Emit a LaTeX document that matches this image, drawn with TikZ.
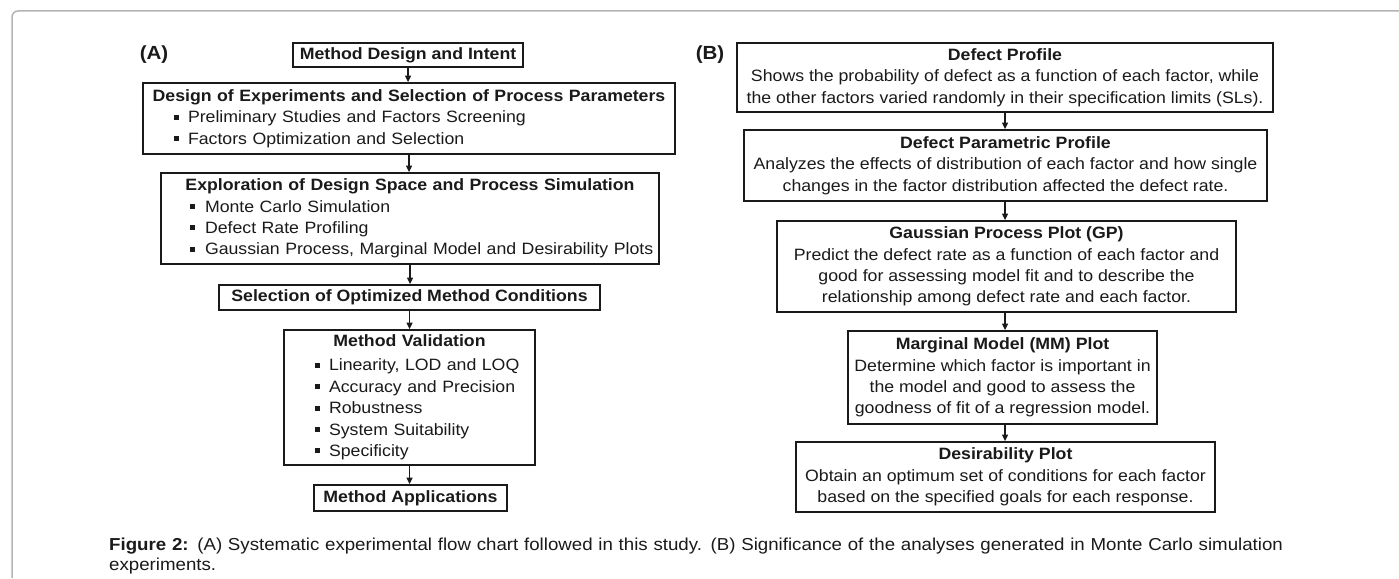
\documentclass[tikz,border=0pt]{standalone}
\usepackage{fontspec}
\setmainfont{Liberation Sans}[FakeStretch=1.08]
\usetikzlibrary{arrows.meta}
\definecolor{ink}{HTML}{1A1A1A}
\definecolor{framegray}{HTML}{B4B4B4}
\newcommand\sqb{\raisebox{3.2pt}{\rule{5pt}{5pt}}}
\begin{document}
\begin{tikzpicture}[x=1pt,y=-1pt,
  box/.style={draw=ink, line width=1.8pt, inner sep=0pt, text=ink,
    font=\fontsize{16.4}{21.4}\selectfont},
  cbox/.style={box, align=center},
  lbox/.style={box, align=left},
  arr/.style={draw=ink, line width=1.3pt, -{Triangle[length=6.5pt,width=6pt]}},
  plabel/.style={text=ink, inner sep=0pt, font=\bfseries\fontsize{19}{21}\selectfont}]
\useasboundingbox (0,0) rectangle (1399,578);
\fill[white] (0,0) rectangle (1399,578);
\draw[framegray, line width=1.5pt, rounded corners=6pt] (12,578) -- (12,11) -- (1399,11);

% panel labels
\node[plabel] (la) at (154,55) {(A)};
\node[plabel] (lb) at (710,55) {(B)};

% panel A
\node[cbox, minimum width=230pt, minimum height=24pt] (mdi) at (408,55)
  {\bfseries Method Design and Intent};
\node[lbox, text width=532pt, minimum height=71pt] (doe) at (409,118.5)
  {\makebox[532pt]{\bfseries Design of Experiments and Selection of Process Parameters}\\
   \hspace*{31pt}\sqb\hspace{9pt}Preliminary Studies and Factors Screening\\
   \hspace*{31pt}\sqb\hspace{9pt}Factors Optimization and Selection};
\node[lbox, text width=498pt, minimum height=91pt] (expl) at (410,218.5)
  {\makebox[498pt]{\bfseries Exploration of Design Space and Process Simulation}\\
   \hspace*{29pt}\sqb\hspace{10pt}Monte Carlo Simulation\\
   \hspace*{29pt}\sqb\hspace{10pt}Defect Rate Profiling\\
   \hspace*{29pt}\sqb\hspace{10pt}Gaussian Process, Marginal Model and Desirability Plots};
\node[cbox, minimum width=381pt, minimum height=25pt] (sel) at (409.5,297.5)
  {\bfseries Selection of Optimized Method Conditions};
\node[lbox, text width=251pt, minimum height=135pt] (val) at (409.5,397.5)
  {\makebox[251pt]{\bfseries Method Validation}\\[2.6pt]
   \hspace*{31pt}\sqb\hspace{9pt}Linearity, LOD and LOQ\\
   \hspace*{31pt}\sqb\hspace{9pt}Accuracy and Precision\\
   \hspace*{31pt}\sqb\hspace{9pt}Robustness\\
   \hspace*{31pt}\sqb\hspace{9pt}System Suitability\\
   \hspace*{31pt}\sqb\hspace{9pt}Specificity};
\node[cbox, minimum width=193pt, minimum height=26pt] (app) at (410.5,498)
  {\bfseries Method Applications};

\draw[arr] (mdi.south) -- (mdi.south |- doe.north);
\draw[arr] (doe.south) -- (doe.south |- expl.north);
\draw[arr] (expl.south) -- (expl.south |- sel.north);
\draw[arr] (sel.south) -- (sel.south |- val.north);
\draw[arr] (val.south) -- (val.south |- app.north);

% panel B
\node[cbox, minimum width=536pt, minimum height=69pt] (b1) at (1005,77.5)
  {\textbf{Defect Profile}\\
   Shows the probability of defect as a function of each factor, while\\
   the other factors varied randomly in their specification limits (SLs).};
\node[cbox, minimum width=523pt, minimum height=71pt] (b2) at (1005.5,165.5)
  {\textbf{Defect Parametric Profile}\\
   Analyzes the effects of distribution of each factor and how single\\
   changes in the factor distribution affected the defect rate.};
\node[cbox, minimum width=459pt, minimum height=91pt] (b3) at (1006.5,266.5)
  {\textbf{Gaussian Process Plot (GP)}\\
   Predict the defect rate as a function of each factor and\\
   good for assessing model fit and to describe the\\
   relationship among defect rate and each factor.};
\node[cbox, minimum width=309pt, minimum height=93pt] (b4) at (1002.5,377.5)
  {\textbf{Marginal Model (MM) Plot}\\
   Determine which factor is important in\\
   the model and good to assess the\\
   goodness of fit of a regression model.};
\node[cbox, minimum width=419pt, minimum height=70pt] (b5) at (1005.5,477)
  {\textbf{Desirability Plot}\\
   Obtain an optimum set of conditions for each factor\\
   based on the specified goals for each response.};

\coordinate (bx) at (1005,0);
\draw[arr] (bx |- b1.south) -- (bx |- b2.north);
\draw[arr] (bx |- b2.south) -- (bx |- b3.north);
\draw[arr] (bx |- b3.south) -- (bx |- b4.north);
\draw[arr] (bx |- b4.south) -- (bx |- b5.north);

% caption
\node[anchor=base west, text width=1203pt, align=left, inner sep=0pt, text=ink,
  font=\fontsize{17.3}{20.5}\selectfont] (cap) at (109,550)
  {\makebox[1203pt][s]{\textbf{Figure 2:} (A) Systematic experimental flow chart followed in this study. (B) Significance of the analyses generated in Monte Carlo simulation}\\
   experiments.};
\end{tikzpicture}
\end{document}
